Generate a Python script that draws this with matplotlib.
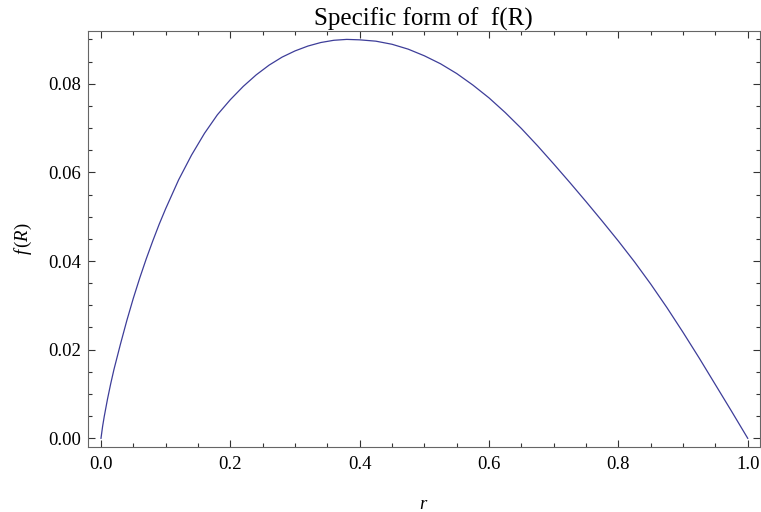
import matplotlib
matplotlib.use('Agg')
import matplotlib.pyplot as plt
from matplotlib.ticker import MultipleLocator, FormatStrFormatter

# values
r = [0.0, 0.0025, 0.005, 0.01, 0.015, 0.02, 0.03, 0.04, 0.05, 0.06, 0.07,
     0.08, 0.09, 0.10, 0.12, 0.14, 0.16, 0.18, 0.20, 0.22, 0.24, 0.26, 0.28,
     0.30, 0.32, 0.34, 0.36, 0.38, 0.40, 0.425, 0.45, 0.475, 0.50, 0.525,
     0.55, 0.575, 0.60, 0.625, 0.65, 0.675, 0.70, 0.725, 0.75, 0.775, 0.80,
     0.825, 0.85, 0.875, 0.90, 0.925, 0.95, 0.975, 1.0]
f = [0.0, 0.0027, 0.0049, 0.0088, 0.0123, 0.0155, 0.0212, 0.0266, 0.0316,
     0.0362, 0.0405, 0.0445, 0.0483, 0.0518, 0.0583, 0.0639, 0.0688, 0.0730,
     0.0764, 0.0794, 0.0820, 0.0842, 0.0860, 0.0874, 0.0885, 0.0893, 0.0898,
     0.0900, 0.0899, 0.0896, 0.0889, 0.0878, 0.0863, 0.0845, 0.0823, 0.0797,
     0.0768, 0.0735, 0.0699, 0.0660, 0.0619, 0.0577, 0.0534, 0.0490, 0.0445,
     0.0398, 0.0348, 0.0295, 0.0239, 0.0181, 0.0121, 0.0061, 0.0]

title = 'Specific form of  f(R)'
xlabel = '$r$'
ylabel = r'$f\,(R)$'

plt.rcParams['font.family'] = ['Liberation Serif', 'DejaVu Serif']
plt.rcParams['mathtext.fontset'] = 'custom'
plt.rcParams['mathtext.rm'] = 'Liberation Serif'
plt.rcParams['mathtext.it'] = 'Liberation Serif:italic'

fig = plt.figure(figsize=(7.61, 5.12), dpi=100)
ax = fig.add_axes([0.1152, 0.1275, 0.8835, 0.812])

ax.plot(r, f, color='#3d3d99', linewidth=0.9)

ax.set_xlim(-0.0206, 1.019)
ax.set_ylim(-0.0019, 0.0919)

ax.xaxis.set_major_locator(MultipleLocator(0.2))
ax.xaxis.set_minor_locator(MultipleLocator(0.05))
ax.yaxis.set_major_locator(MultipleLocator(0.02))
ax.yaxis.set_minor_locator(MultipleLocator(0.005))
ax.xaxis.set_major_formatter(FormatStrFormatter('%.1f'))
ax.yaxis.set_major_formatter(FormatStrFormatter('%.2f'))

ax.tick_params(which='both', direction='in', top=True, right=True,
               color='#333333', width=0.8, labelsize=13.5)
ax.tick_params(which='major', length=5)
ax.tick_params(which='minor', length=2.9)
ax.tick_params(axis='x', pad=7)
ax.tick_params(axis='y', pad=5)

for s in ax.spines.values():
    s.set_color('#666666')
    s.set_linewidth(0.8)

ax.set_title(title, fontsize=18, pad=3.8)
ax.set_xlabel(xlabel, fontsize=13.5, labelpad=16)
ax.set_ylabel(ylabel, fontsize=13.5, labelpad=10)

fig.savefig('out.png', dpi=100)
